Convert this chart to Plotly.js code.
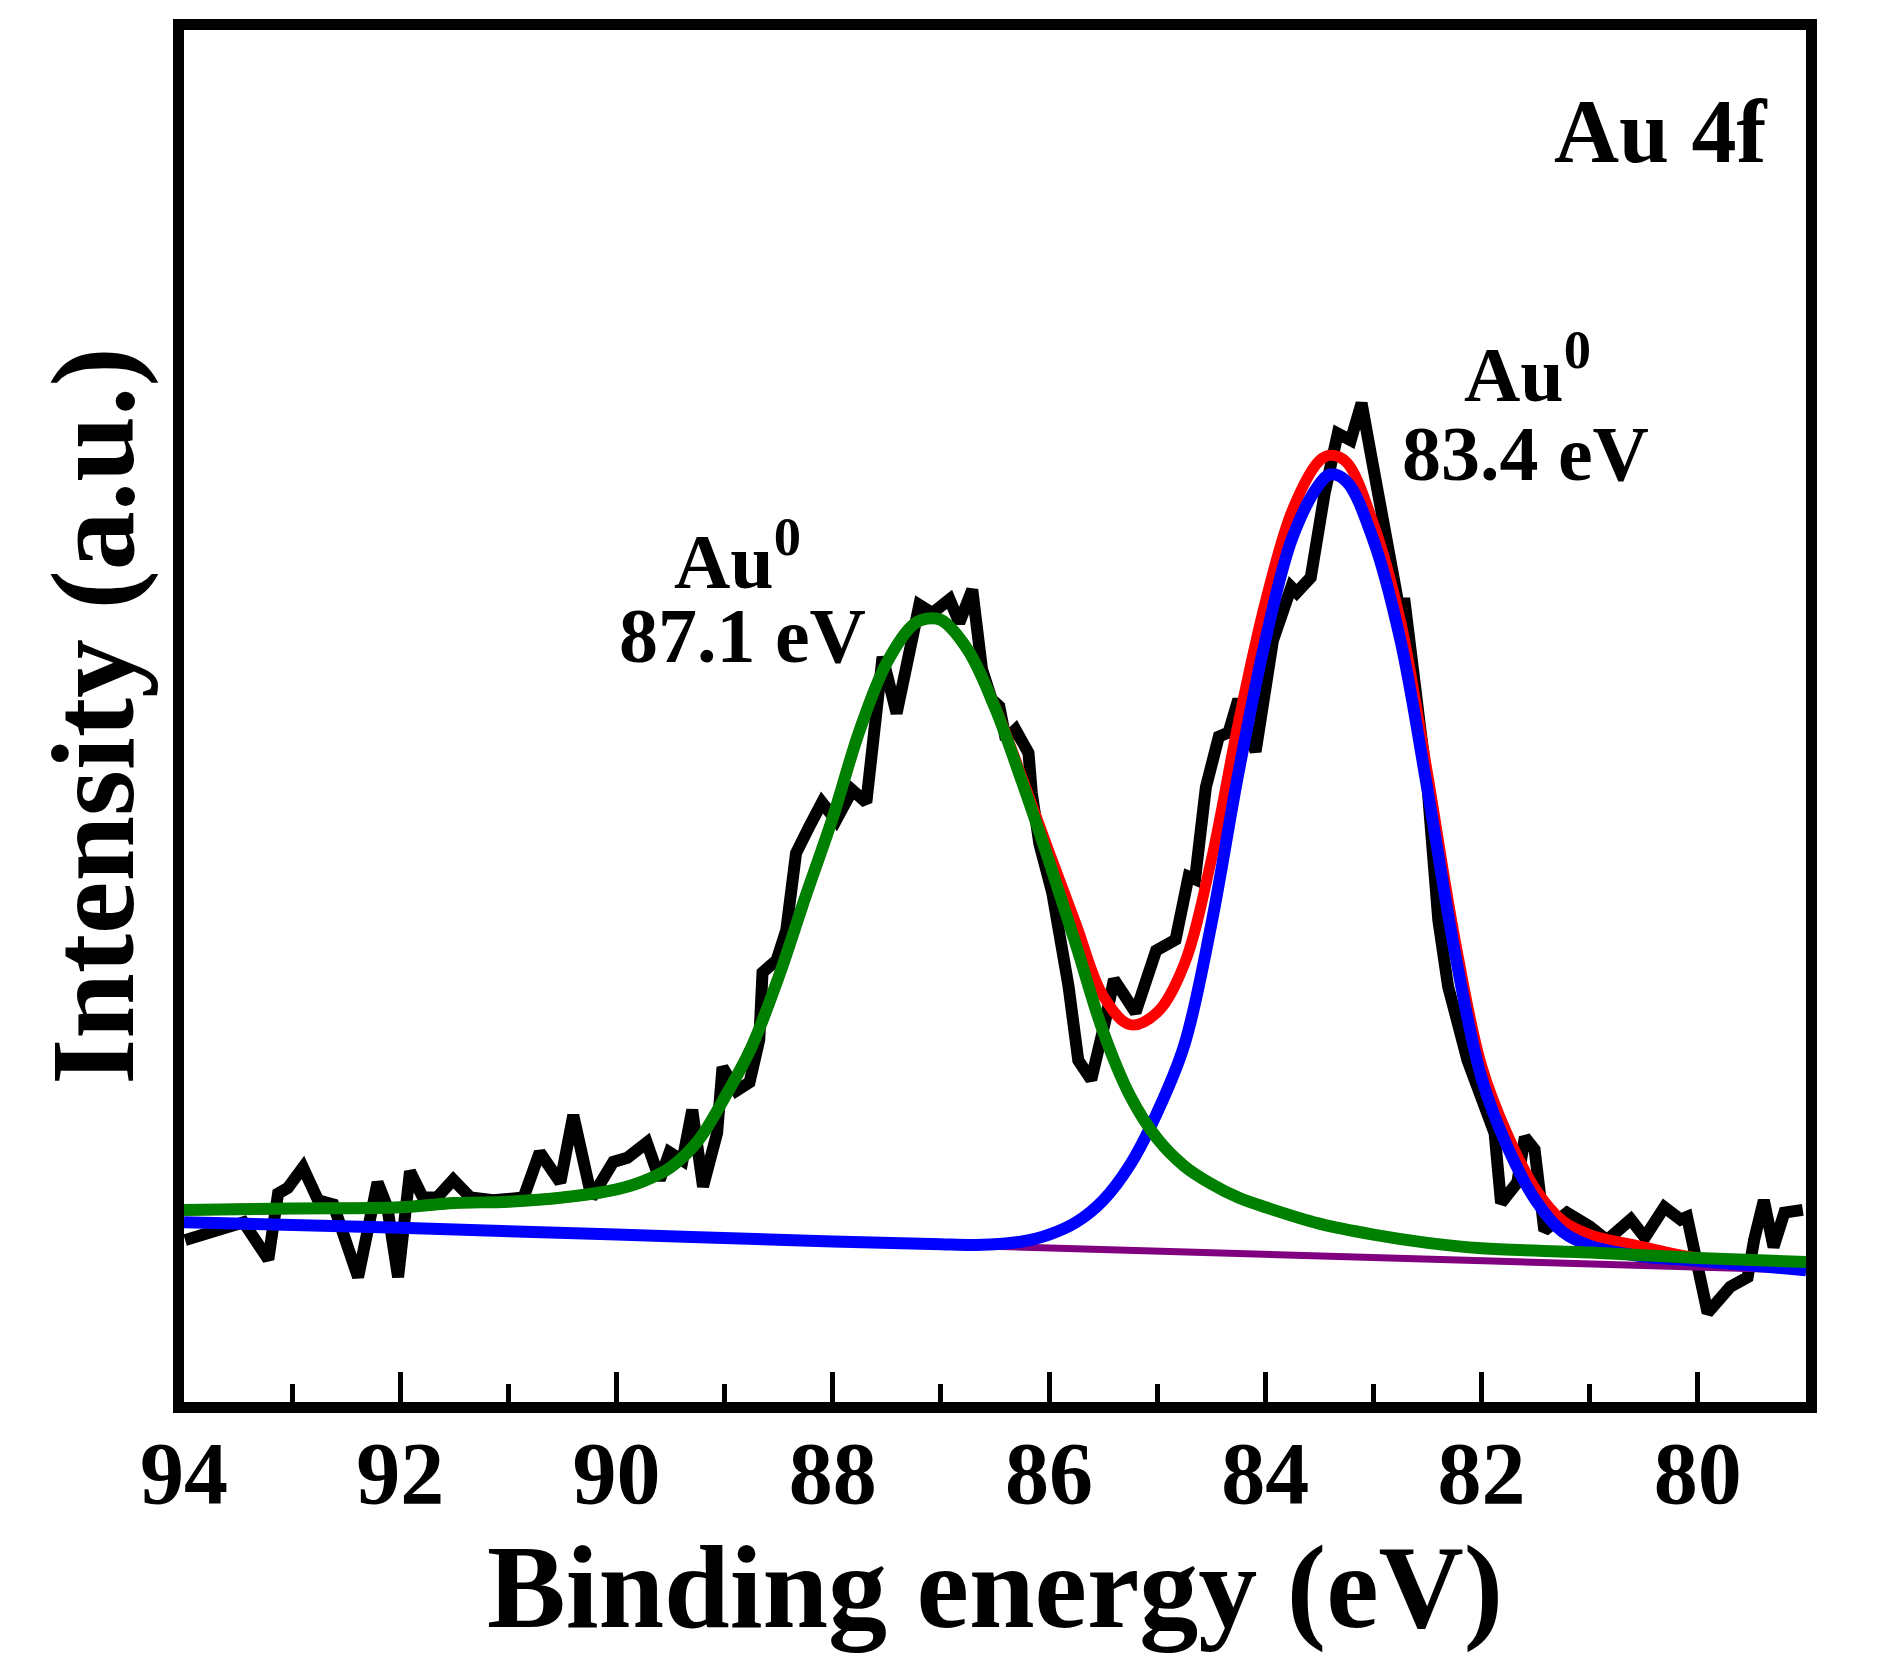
<!DOCTYPE html>
<html>
<head>
<meta charset="utf-8">
<script src="https://cdn.plot.ly/plotly-3.0.1.min.js"></script>
<style>
  body { margin: 0; background: #fff; }
  #chart { width: 1882px; height: 1675px; }
</style>
</head>
<body>
<div id="chart"></div>
<script>
// raw spectrum (binding energy, intensity a.u.)
var rawEnergy = [93.99, 93.91, 93.72, 93.57, 93.45, 93.22, 93.13, 93.04, 92.90, 92.76,
  92.62, 92.39, 92.21, 92.12, 92.02, 91.91, 91.79, 91.66, 91.51, 91.35,
  91.23, 91.14, 90.86, 90.71, 90.52, 90.40, 90.23, 90.03, 89.90, 89.72,
  89.60, 89.51, 89.39, 89.30, 89.20, 89.07, 89.02, 88.89, 88.77, 88.68,
  88.65, 88.52, 88.43, 88.37, 88.34, 88.22, 88.10, 87.97, 87.82, 87.69,
  87.60, 87.54, 87.41, 87.29, 87.20, 87.08, 86.92, 86.83, 86.71, 86.62,
  86.53, 86.46, 86.40, 86.31, 86.19, 86.16, 86.09, 85.97, 85.88, 85.82,
  85.73, 85.61, 85.48, 85.40, 85.20, 85.01, 84.83, 84.71, 84.65, 84.55,
  84.43, 84.34, 84.25, 84.09, 83.93, 83.76, 83.71, 83.58, 83.45, 83.39,
  83.33, 83.21, 83.11, 83.02, 82.89, 82.77, 82.71, 82.65, 82.57, 82.50,
  82.40, 82.31, 82.13, 81.97, 81.88, 81.82, 81.67, 81.60, 81.51, 81.42,
  81.21, 81.00, 80.84, 80.62, 80.49, 80.31, 80.16, 80.10, 80.03, 79.91,
  79.70, 79.54, 79.48, 79.39, 79.30, 79.20, 79.03];
var rawIntensity = [11.8, 12.0, 12.5, 12.8, 13.1, 10.4, 15.2, 15.6, 17.1, 14.7,
  14.4, 9.1, 16.0, 14.2, 9.1, 16.8, 14.9, 14.9, 16.2, 14.9,
  14.7, 14.7, 14.9, 18.2, 16.0, 20.9, 14.9, 17.5, 17.8, 18.9,
  16.2, 18.2, 17.6, 21.3, 15.7, 19.6, 24.4, 22.7, 23.3, 26.4,
  31.3, 32.2, 34.4, 37.8, 40.0, 41.9, 43.7, 42.4, 44.6, 43.7,
  49.2, 54.3, 50.2, 55.3, 58.1, 57.5, 58.5, 56.8, 59.2, 53.4,
  51.2, 50.7, 48.3, 49.0, 47.3, 44.4, 40.7, 37.1, 33.5, 30.3,
  24.9, 23.5, 27.8, 30.8, 28.4, 32.9, 33.7, 38.3, 38.1, 44.8,
  48.5, 48.8, 51.2, 47.4, 55.5, 59.4, 59.0, 60.1, 66.3, 68.9,
  70.6, 70.1, 72.8, 68.9, 63.6, 58.2, 58.2, 54.3, 50.7, 44.8,
  35.1, 30.3, 24.9, 21.3, 19.6, 14.5, 16.0, 19.3, 18.4, 12.5,
  13.8, 12.8, 11.8, 13.3, 12.0, 14.2, 13.3, 13.5, 10.9, 6.5,
  8.4, 9.1, 11.8, 14.7, 11.3, 13.8, 14.0];

// background
var bgEnergy = [94, 79];
var bgIntensity = [13.1, 9.6];

// Au 4f5/2 component (87.1 eV)
var peak1Energy = [94.0, 93.0, 92.0, 91.5, 91.0, 90.5, 90.0, 89.75, 89.5, 89.25,
  89.0, 88.75, 88.5, 88.25, 88.0, 87.75, 87.5, 87.25, 87.13, 87.0,
  86.75, 86.5, 86.25, 86.0, 85.75, 85.5, 85.25, 85.0, 84.75, 84.5,
  84.25, 84.0, 83.5, 83.0, 82.5, 82.0, 81.0, 80.0, 79.0];
var peak1Intensity = [14.0, 14.1, 14.2, 14.5, 14.6, 14.9, 15.5, 16.1, 17.1, 19.0,
  22.2, 25.9, 31.0, 36.9, 42.6, 49.0, 53.9, 56.7, 57.1, 57.0,
  54.8, 50.6, 45.2, 39.4, 33.3, 27.0, 22.3, 19.2, 17.2, 15.9,
  14.9, 14.2, 13.0, 12.2, 11.6, 11.2, 10.9, 10.5, 10.2];

// Au 4f7/2 component (83.4 eV)
var peak2Energy = [94.0, 92.0, 90.0, 88.0, 87.0, 86.75, 86.5, 86.25, 86.0, 85.75,
  85.5, 85.25, 85.0, 84.75, 84.5, 84.25, 84.0, 83.75, 83.5, 83.4,
  83.25, 83.0, 82.75, 82.5, 82.25, 82.0, 81.75, 81.5, 81.25, 81.0,
  80.5, 80.0, 79.0];
var peak2Intensity = [13.1, 12.7, 12.2, 11.7, 11.5, 11.45, 11.5, 11.7, 12.2, 13.1,
  14.7, 17.3, 21.1, 26.0, 34.8, 45.8, 55.5, 63.0, 66.9, 67.6,
  67.1, 62.8, 55.5, 44.6, 32.9, 23.6, 18.4, 14.7, 12.4, 11.4,
  10.6, 10.3, 9.6];

// envelope
var envEnergy = [94.0, 93.0, 92.0, 91.5, 91.0, 90.5, 90.0, 89.75, 89.5, 89.25,
  89.0, 88.75, 88.5, 88.25, 88.0, 87.75, 87.5, 87.25, 87.13, 87.0,
  86.75, 86.5, 86.25, 86.0, 85.75, 85.5, 85.25, 85.0, 84.75, 84.5,
  84.25, 84.0, 83.75, 83.5, 83.4, 83.25, 83.0, 82.75, 82.5, 82.25,
  82.0, 81.75, 81.5, 81.25, 81.0, 80.5, 80.0, 79.0];
var envIntensity = [14.0, 14.1, 14.2, 14.5, 14.6, 14.9, 15.5, 16.1, 17.1, 19.0,
  22.2, 25.9, 31.0, 36.9, 42.6, 49.0, 53.9, 56.7, 57.1, 57.0,
  54.8, 50.7, 45.5, 40.1, 34.8, 29.6, 27.5, 28.4, 31.9, 39.5,
  49.5, 58.3, 65.0, 68.6, 69.0, 68.5, 64.0, 56.9, 45.8, 33.9,
  24.5, 19.3, 15.5, 13.2, 12.2, 11.3, 10.5, 10.2];

var serif = 'Liberation Serif, Times New Roman, serif';

var traceRaw = {
    type: 'scatter', mode: 'lines',
    x: rawEnergy, y: rawIntensity,
    line: {color: '#000000', width: 12}
};
var traceBg = {
    type: 'scatter', mode: 'lines',
    x: bgEnergy, y: bgIntensity,
    line: {color: '#800080', width: 7}
};
var traceEnv = {
    type: 'scatter', mode: 'lines',
    x: envEnergy, y: envIntensity,
    line: {color: '#ff0000', width: 11, shape: 'spline'}
};
var tracePeak2 = {
    type: 'scatter', mode: 'lines',
    x: peak2Energy, y: peak2Intensity,
    line: {color: '#0000ff', width: 12, shape: 'spline'}
};
var tracePeak1 = {
    type: 'scatter', mode: 'lines',
    x: peak1Energy, y: peak1Intensity,
    line: {color: '#008000', width: 12, shape: 'spline'}
};

var data = [traceRaw, traceBg, traceEnv, tracePeak2, tracePeak1];

var layout = {
    width: 1882,
    height: 1675,
    margin: {l: 184, r: 76, t: 30, b: 273},
    paper_bgcolor: '#ffffff',
    plot_bgcolor: '#ffffff',
    showlegend: false,
    xaxis: {
        range: [94, 79],
        tick0: 80,
        dtick: 2,
        ticks: 'inside',
        ticklen: 30,
        tickwidth: 5,
        tickcolor: '#000',
        ticklabelstandoff: -16,
        minor: {dtick: 1, ticks: 'inside', ticklen: 18, tickwidth: 5, tickcolor: '#000'},
        showline: true,
        linewidth: 11,
        linecolor: '#000',
        mirror: true,
        showgrid: false,
        zeroline: false,
        tickfont: {family: serif, size: 88, color: '#000', weight: 'bold'},
        title: {
            text: 'Binding energy (eV)',
            font: {family: serif, size: 118, color: '#000', weight: 'bold'},
            standoff: 20
        }
    },
    yaxis: {
        range: [0, 100],
        showticklabels: false,
        ticks: '',
        showline: true,
        linewidth: 11,
        linecolor: '#000',
        mirror: true,
        showgrid: false,
        zeroline: false,
        title: {
            text: 'Intensity (a.u.)',
            font: {family: serif, size: 118, color: '#000', weight: 'bold'},
            standoff: 4
        }
    },
    annotations: [
        {text: 'Au 4f', xref: 'paper', yref: 'paper', x: 0.978, y: 0.926,
         xanchor: 'right', yanchor: 'middle', showarrow: false,
         font: {family: serif, size: 90, color: '#000', weight: 'bold'}},
        {text: 'Au<sup>0</sup>', xref: 'paper', yref: 'paper', x: 0.828, y: 0.753,
         xanchor: 'center', yanchor: 'middle', showarrow: false,
         font: {family: serif, size: 78, color: '#000', weight: 'bold'}},
        {text: '83.4 eV', xref: 'paper', yref: 'paper', x: 0.827, y: 0.691,
         xanchor: 'center', yanchor: 'middle', showarrow: false,
         font: {family: serif, size: 78, color: '#000', weight: 'bold'}},
        {text: 'Au<sup>0</sup>', xref: 'paper', yref: 'paper', x: 0.3415, y: 0.617,
         xanchor: 'center', yanchor: 'middle', showarrow: false,
         font: {family: serif, size: 78, color: '#000', weight: 'bold'}},
        {text: '87.1 eV', xref: 'paper', yref: 'paper', x: 0.3446, y: 0.559,
         xanchor: 'center', yanchor: 'middle', showarrow: false,
         font: {family: serif, size: 78, color: '#000', weight: 'bold'}}
    ]
};

Plotly.newPlot('chart', data, layout, {staticPlot: true});
</script>
</body>
</html>
